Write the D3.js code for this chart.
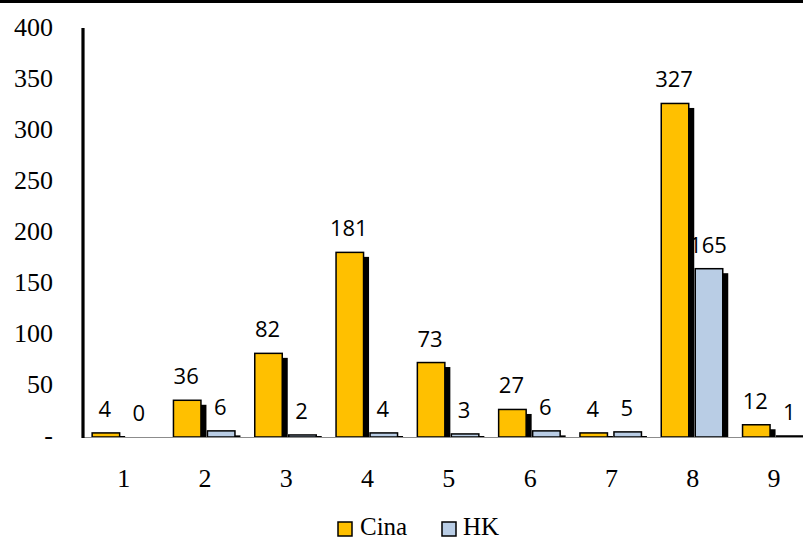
<!DOCTYPE html>
<html>
<head>
<meta charset="utf-8">
<script src="https://cdn.jsdelivr.net/npm/d3@7/dist/d3.min.js"></script>
<style>
  html, body { margin: 0; padding: 0; background: #fff; }
  svg { display: block; }
</style>
</head>
<body>
<script>
// Categories and series
const categories = ["1", "2", "3", "4", "5", "6", "7", "8", "9"];
const cinaValues = [4, 36, 82, 181, 73, 27, 4, 327, 12];
const hkValues = [0, 6, 2, 4, 3, 6, 5, 165, 1];
const seriesNames = ["Cina", "HK"];
const yTicks = [0, 50, 100, 150, 200, 250, 300, 350, 400];
const yTickLabels = ["-", "50", "100", "150", "200", "250", "300", "350", "400"];

const W = 803, H = 541;
const colors = { Cina: "#FFC000", HK: "#B9CDE5" };
const serif = "'Liberation Serif', 'Times New Roman', serif";
const sans = "'Open Sans', 'Liberation Sans', sans-serif";

const svg = d3.select("body").append("svg")
  .attr("width", W).attr("height", H);

// Frame line along the top edge
svg.append("rect").attr("x", 0).attr("y", 0).attr("width", W).attr("height", 3).attr("fill", "#000");

const x = d3.scaleBand().domain(categories).range([83, 814.7]).paddingInner(0).paddingOuter(0);
const y = d3.scaleLinear().domain([0, 400]).range([437, 29]);

const barW = 27.5;
const offsets = { Cina: -31.5, HK: 2.5 };
const shadowDx = 5.5, shadowDy = 4.5;

const rows = [];
categories.forEach((c, i) => {
  rows.push({ cat: c, series: "Cina", value: cinaValues[i] });
  rows.push({ cat: c, series: "HK", value: hkValues[i] });
});
const cx = d => x(d.cat) + x.bandwidth() / 2;
const bx = d => cx(d) + offsets[d.series];

// Drop shadows
svg.append("g").selectAll("rect").data(rows.filter(d => d.value > 0)).join("rect")
  .attr("x", d => bx(d) + shadowDx)
  .attr("y", d => Math.min(y(d.value) + shadowDy, y(0) - 1))
  .attr("width", barW)
  .attr("height", d => Math.max(1, y(0) - y(d.value) - shadowDy))
  .attr("fill", "#000");

// Bars
svg.append("g").selectAll("rect").data(rows.filter(d => d.value > 0)).join("rect")
  .attr("x", d => bx(d))
  .attr("y", d => y(d.value))
  .attr("width", barW)
  .attr("height", d => y(0) - y(d.value))
  .attr("fill", d => colors[d.series])
  .attr("stroke", "#000")
  .attr("stroke-width", 1.5);

// Baseline
svg.append("line")
  .attr("x1", 83).attr("x2", W).attr("y1", y(0) + 0.5).attr("y2", y(0) + 0.5)
  .attr("stroke", "#8c8c8c").attr("stroke-width", 1);

// Vertical axis line
svg.append("line")
  .attr("x1", 83).attr("x2", 83).attr("y1", 28).attr("y2", 438)
  .attr("stroke", "#000").attr("stroke-width", 3.2);

// Value labels
svg.append("g").selectAll("text").data(rows).join("text")
  .attr("x", d => bx(d) + barW / 2 - 1)
  .attr("y", d => y(d.value) - 16)
  .attr("text-anchor", "middle")
  .attr("font-family", sans)
  .attr("font-size", 22)
  .attr("fill", "#000")
  .text(d => d.value);

// Y axis tick labels
const yAxis = d3.axisLeft(y).tickValues(yTicks).tickSize(0).tickPadding(0)
  .tickFormat((d, i) => yTickLabels[i]);
const gy = svg.append("g").attr("transform", "translate(53,0)").call(yAxis);
gy.select(".domain").remove();
gy.selectAll("text")
  .attr("font-family", serif).attr("font-size", 26).attr("fill", "#000")
  .attr("dy", "0.3em").attr("y", -1);

// X axis category labels
const xAxis = d3.axisBottom(x).tickSize(0).tickPadding(0);
const gx = svg.append("g").attr("transform", "translate(0,487)").call(xAxis);
gx.select(".domain").remove();
gx.selectAll("text")
  .attr("font-family", serif).attr("font-size", 26).attr("fill", "#000")
  .attr("dy", 0).attr("y", 0);

// Legend
const legendItems = [
  { name: seriesNames[0], sx: 338, tx: 360 },
  { name: seriesNames[1], sx: 442, tx: 463 }
];
const lg = svg.append("g");
lg.selectAll("rect").data(legendItems).join("rect")
  .attr("x", d => d.sx).attr("y", 522).attr("width", 14).attr("height", 14)
  .attr("fill", d => colors[d.name]).attr("stroke", "#000").attr("stroke-width", 1.5);
lg.selectAll("text").data(legendItems).join("text")
  .attr("x", d => d.tx).attr("y", 535)
  .attr("font-family", serif).attr("font-size", 25).attr("fill", "#000")
  .text(d => d.name);
</script>
</body>
</html>
